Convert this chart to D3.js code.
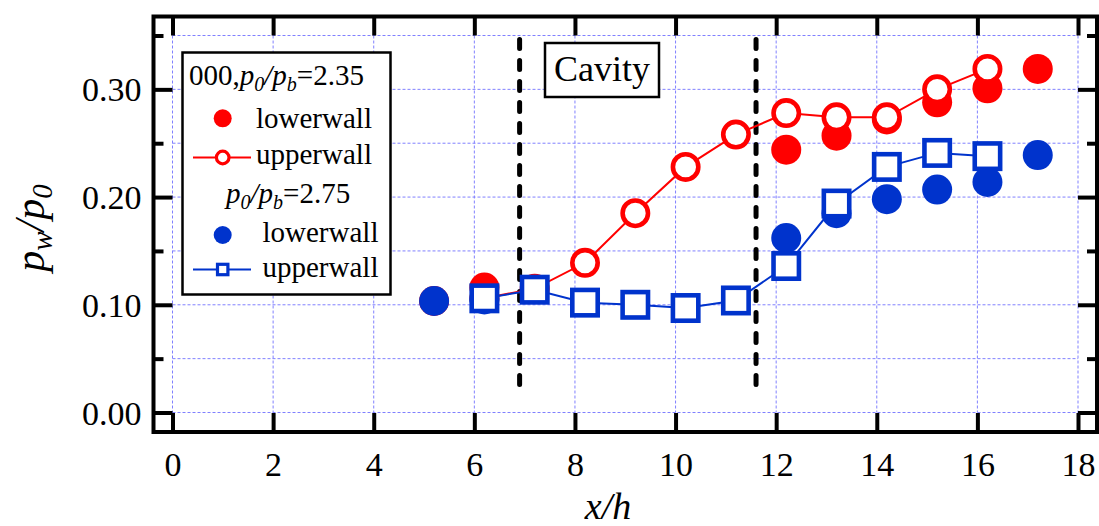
<!DOCTYPE html>
<html>
<head>
<meta charset="utf-8">
<script src="https://cdn.jsdelivr.net/npm/d3@7"></script>
<style>
  body { margin: 0; background: #fff; }
</style>
</head>
<body>
<svg class="chart"></svg>
<script>
// values (x/h, pw/p0)
var redLowerX = [5.2, 6.2, 12.2, 13.2, 14.2, 15.2, 16.2, 17.2];
var redLowerY = [0.1035, 0.116, 0.244, 0.257, 0.272, 0.288, 0.301, 0.319];
var redUpperX = [6.2, 7.2, 8.2, 9.2, 10.2, 11.2, 12.2, 13.2, 14.2, 15.2, 16.2];
var redUpperY = [0.106, 0.115, 0.139, 0.185, 0.228, 0.258, 0.278, 0.274, 0.274, 0.300, 0.319];
var blueLowerX = [5.2, 6.2, 12.2, 13.2, 14.2, 15.2, 16.2, 17.2];
var blueLowerY = [0.1035, 0.105, 0.162, 0.185, 0.198, 0.207, 0.214, 0.239];
var blueUpperX = [6.2, 7.2, 8.2, 9.2, 10.2, 11.2, 12.2, 13.2, 14.2, 15.2, 16.2];
var blueUpperY = [0.106, 0.114, 0.102, 0.100, 0.097, 0.104, 0.136, 0.194, 0.228, 0.241, 0.238];
var cavityEdges = [6.9, 11.6];
var xTicks = [0, 2, 4, 6, 8, 10, 12, 14, 16, 18];
var yTicks = [0.00, 0.10, 0.20, 0.30];
var yMinorTicks = [0.05, 0.15, 0.25, 0.35];
var yGrid = [0, 0.05, 0.10, 0.15, 0.20, 0.25, 0.30, 0.35];

var red = "#ff0000", blue = "#0033cc", gridColor = "#8080ff";
var serif = "Liberation Serif";

// frame and plot area
var frame = { left: 153.5, top: 16.5, right: 1097, bottom: 432 };

var svg = d3.select(".chart")
    .attr("width", 1099)
    .attr("height", 526);

var x = d3.scaleLinear().domain([0, 18]).range([172.5, 1078]);
var y = d3.scaleLinear().domain([0, 0.35]).range([412.5, 35.5]);

function zip(xs, ys) { return xs.map(function(d, i) { return { x: d, y: ys[i] }; }); }

// grid
svg.append("g").selectAll("line")
    .data(xTicks).enter().append("line")
    .attr("x1", d => x(d)).attr("x2", d => x(d))
    .attr("y1", y(0.35)).attr("y2", y(0))
    .attr("stroke", gridColor).attr("stroke-width", 1).attr("stroke-dasharray", "3,2");
svg.append("g").selectAll("line")
    .data(yGrid).enter().append("line")
    .attr("x1", x(0)).attr("x2", x(18))
    .attr("y1", d => y(d)).attr("y2", d => y(d))
    .attr("stroke", gridColor).attr("stroke-width", 1).attr("stroke-dasharray", "3,2");

// axes: ticks point inward, labels outside
var bottomAxis = svg.append("g")
    .attr("transform", "translate(0," + frame.bottom + ")")
    .call(d3.axisBottom(x).tickValues(xTicks).tickSize(-19).tickPadding(20).tickFormat(d3.format("d")));
var topAxis = svg.append("g")
    .attr("transform", "translate(0," + frame.top + ")")
    .call(d3.axisTop(x).tickValues(xTicks).tickSize(-19).tickFormat(""));
var leftAxis = svg.append("g")
    .attr("transform", "translate(" + frame.left + ",0)")
    .call(d3.axisLeft(y).tickValues(yTicks).tickSize(-19).tickPadding(12).tickFormat(d3.format(".2f")));
var leftMinor = svg.append("g")
    .attr("transform", "translate(" + frame.left + ",0)")
    .call(d3.axisLeft(y).tickValues(yMinorTicks).tickSize(-10).tickFormat(""));
var rightAxis = svg.append("g")
    .attr("transform", "translate(" + frame.right + ",0)")
    .call(d3.axisRight(y).tickValues(yTicks).tickSize(-19).tickFormat(""));
var rightMinor = svg.append("g")
    .attr("transform", "translate(" + frame.right + ",0)")
    .call(d3.axisRight(y).tickValues(yMinorTicks).tickSize(-10).tickFormat(""));

[bottomAxis, topAxis, leftAxis, leftMinor, rightAxis, rightMinor].forEach(function(a) {
    a.attr("font-family", null).attr("font-size", 34);
    a.select(".domain").remove();
    a.selectAll(".tick line").attr("stroke", "#000").attr("stroke-width", 4);
    a.selectAll(".tick text").attr("fill", "#000");
});
leftAxis.selectAll(".tick text").attr("dy", "0.34em");

// frame
svg.append("rect")
    .attr("x", frame.left).attr("y", frame.top)
    .attr("width", frame.right - frame.left).attr("height", frame.bottom - frame.top)
    .attr("fill", "none").attr("stroke", "#000").attr("stroke-width", 4);

// cavity edges
svg.append("g").selectAll("line")
    .data(cavityEdges).enter().append("line")
    .attr("x1", d => x(d)).attr("x2", d => x(d))
    .attr("y1", y(0.35) + 4).attr("y2", 394)
    .attr("stroke", "#000").attr("stroke-width", 5)
    .attr("stroke-linecap", "round").attr("stroke-dasharray", "9,12");

// cavity label
svg.append("rect")
    .attr("x", 545).attr("y", 43).attr("width", 114).attr("height", 54)
    .attr("fill", "#fff").attr("stroke", "#000").attr("stroke-width", 2.5);
svg.append("text")
    .attr("x", 602).attr("y", 81)
    .attr("text-anchor", "middle")
    .attr("font-size", 36)
    .text("Cavity");

var line = d3.line().x(d => x(d.x)).y(d => y(d.y));

// 2.35 lower wall
svg.append("g").selectAll("circle")
    .data(zip(redLowerX, redLowerY)).enter().append("circle")
    .attr("cx", d => x(d.x)).attr("cy", d => y(d.y)).attr("r", 15)
    .attr("fill", red);

// 2.35 upper wall
svg.append("path")
    .datum(zip(redUpperX, redUpperY))
    .attr("d", line).attr("fill", "none").attr("stroke", red).attr("stroke-width", 2);
svg.append("g").selectAll("circle")
    .data(zip(redUpperX, redUpperY)).enter().append("circle")
    .attr("cx", d => x(d.x)).attr("cy", d => y(d.y)).attr("r", 12.7)
    .attr("fill", "#fff").attr("stroke", red).attr("stroke-width", 4.6);

// 2.75 lower wall
svg.append("g").selectAll("circle")
    .data(zip(blueLowerX, blueLowerY)).enter().append("circle")
    .attr("cx", d => x(d.x)).attr("cy", d => y(d.y)).attr("r", 15)
    .attr("fill", blue);

// 2.75 upper wall
svg.append("path")
    .datum(zip(blueUpperX, blueUpperY))
    .attr("d", line).attr("fill", "none").attr("stroke", blue).attr("stroke-width", 2);
svg.append("g").selectAll("rect")
    .data(zip(blueUpperX, blueUpperY)).enter().append("rect")
    .attr("x", d => x(d.x) - 12.7).attr("y", d => y(d.y) - 12.7)
    .attr("width", 25.4).attr("height", 25.4)
    .attr("fill", "#fff").attr("stroke", blue).attr("stroke-width", 4.6);

// legend
var legend = svg.append("g");
legend.append("rect")
    .attr("x", 182.5).attr("y", 52.5).attr("width", 208).attr("height", 242)
    .attr("fill", "#fff").attr("stroke", "#000").attr("stroke-width", 2.5);

function ratioLabel(sel, prefix, value) {
    if (prefix) sel.append("tspan").text(prefix);
    sel.append("tspan").attr("font-style", "italic").text("p");
    sel.append("tspan").attr("font-style", "italic").attr("font-size", 20).attr("dy", 6).text("0");
    sel.append("tspan").attr("font-style", "italic").attr("dy", -6).text("/p");
    sel.append("tspan").attr("font-style", "italic").attr("font-size", 20).attr("dy", 6).text("b");
    sel.append("tspan").attr("dy", -6).text("=" + value);
}

var legFont = 29;
legend.append("text").attr("x", 189).attr("y", 85).attr("font-size", legFont)
    .call(ratioLabel, "000,", "2.35");
legend.append("circle").attr("cx", 222.7).attr("cy", 118.3).attr("r", 9).attr("fill", red);
legend.append("text").attr("x", 256).attr("y", 127.5).attr("font-size", legFont).text("lowerwall");
legend.append("line").attr("x1", 193).attr("x2", 251).attr("y1", 157.5).attr("y2", 157.5)
    .attr("stroke", red).attr("stroke-width", 2);
legend.append("circle").attr("cx", 222.7).attr("cy", 157.5).attr("r", 6.3)
    .attr("fill", "#fff").attr("stroke", red).attr("stroke-width", 3.2);
legend.append("text").attr("x", 256).attr("y", 164).attr("font-size", legFont).text("upperwall");

legend.append("text").attr("x", 226).attr("y", 203).attr("font-size", legFont)
    .call(ratioLabel, null, "2.75");
legend.append("circle").attr("cx", 222.7).attr("cy", 235).attr("r", 9).attr("fill", blue);
legend.append("text").attr("x", 262.5).attr("y", 242).attr("font-size", legFont).text("lowerwall");
legend.append("line").attr("x1", 193).attr("x2", 251).attr("y1", 269.5).attr("y2", 269.5)
    .attr("stroke", blue).attr("stroke-width", 2);
legend.append("rect").attr("x", 222.7 - 5.2).attr("y", 269.5 - 5.2).attr("width", 10.4).attr("height", 10.4)
    .attr("fill", "#fff").attr("stroke", blue).attr("stroke-width", 3.2);
legend.append("text").attr("x", 262.5).attr("y", 277).attr("font-size", legFont).text("upperwall");

// axis titles
svg.append("text")
    .attr("x", 608).attr("y", 519)
    .attr("text-anchor", "middle")
    .attr("font-size", 38).attr("font-style", "italic")
    .text("x/h");

var yTitle = svg.append("text")
    .attr("transform", "translate(44,228) rotate(-90)")
    .attr("text-anchor", "middle")
    .attr("font-size", 42).attr("font-style", "italic");
yTitle.append("tspan").text("p");
yTitle.append("tspan").attr("font-size", 29).attr("dy", 8).text("w");
yTitle.append("tspan").attr("dy", -8).text("/p");
yTitle.append("tspan").attr("font-size", 29).attr("dy", 8).text("0");

// every text in the serif face
svg.selectAll("text").attr("font-family", serif);
</script>
</body>
</html>
